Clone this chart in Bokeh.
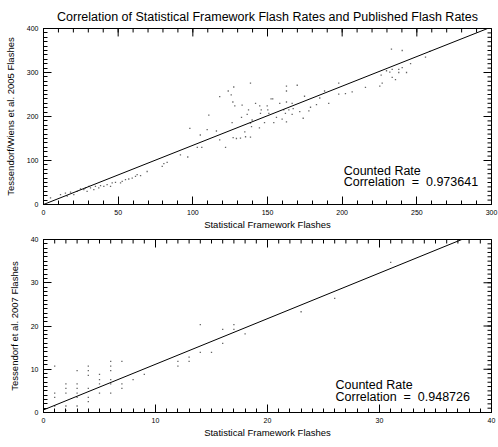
from bokeh.plotting import figure
from bokeh.models import SingleIntervalTicker, Range1d, Label
from bokeh.layouts import column
from bokeh.embed import file_html
from bokeh.resources import INLINE

FONT = "Liberation Sans"

title_text = "Correlation of Statistical Framework Flash Rates and Published Flash Rates"
x_label = "Statistical Framework Flashes"
top_y_label = "Tessendorf/Wiens et al. 2005 Flashes"
bot_y_label = "Tessendorf et al. 2007 Flashes"

top_x = [4.7, 11.4, 14.7, 15.9, 18.1, 20.3, 22.5, 24.8, 27.0, 28.1, 29.2, 30.4, 31.5,
         33.7, 34.8, 37.0, 38.2, 40.4, 42.6, 44.9, 46.0, 48.2, 51.6, 52.7, 54.9, 57.1,
         59.4, 61.6, 62.7, 65.0, 69.4, 79.5, 80.6, 82.8,
         91.7, 96.6, 98.0, 103.0, 106.0, 105.0, 109.6, 110.7, 115.8, 118.0, 118.0, 121.9,
         123.7, 125.7, 126.3, 126.8, 127.4, 128.1, 127.0, 129.2, 131.9, 133.0, 132.6,
         134.8, 135.3, 136.4, 137.3, 138.6, 138.6, 139.3, 138.6, 139.7, 142.0, 144.8,
         145.3, 145.8, 144.6, 148.0, 149.8, 150.2, 150.9, 152.4, 153.5, 154.2, 156.0,
         158.2, 159.8, 160.9, 162.0, 162.7, 162.7, 162.7, 162.7, 164.3, 166.5, 166.5,
         167.2, 169.9, 171.6, 173.9, 174.8, 177.7, 178.8, 182.8, 185.0, 188.2, 191.0,
         197.7, 197.7, 202.2, 206.7, 215.6, 225.2, 226.8, 226.1, 229.7, 231.9, 233.5,
         233.5, 233.0, 235.7, 237.9, 237.9, 240.2, 240.2, 243.1, 245.8, 255.8, 258.7]
top_y = [15, 22.6, 26, 19, 28, 22.6, 30, 35.4, 34, 37.7, 30, 41.4, 37.7,
         34, 41.4, 37.7, 43, 41, 45, 41, 49, 50.5, 49, 52.7, 56.5, 58,
         60, 64, 67.8, 65.5, 75, 86.6, 92.7, 95.6,
         113, 108, 173, 130, 130, 158, 170, 203, 167, 147, 245, 130,
         258, 249, 186, 233, 267, 224, 152, 150, 151, 226, 198,
         165, 154, 205, 215, 276, 153, 177, 185, 192, 230, 224,
         207, 215, 174, 186, 224, 215, 207, 240, 240, 186, 198,
         230, 194, 215, 207, 269, 258, 233, 188, 215, 230, 205,
         218, 271, 211, 196, 246, 213, 221, 227, 242, 258, 230,
         276, 251, 252, 256, 266, 269, 276, 294, 304, 301, 289,
         307, 353, 284, 307, 300, 311, 350, 300, 320, 335, 348]
top_slope = 1.345
top_intercept = 0.0
top_corr = "0.973641"
top_fit_x = [0, 300]

bot_x = [1, 1, 1, 1, 2, 2, 2, 2, 2, 3, 3, 3, 3, 3, 3, 4, 4, 4, 4, 4, 4,
         5, 5, 5, 5, 6, 6, 6, 6, 6, 6, 7, 7, 7, 8, 9, 12, 12, 13, 13,
         14, 14, 15, 16, 16, 17, 17, 18, 23, 26, 31]
bot_y = [10.7, 4.5, 3.5, 1.5, 6.6, 5.6, 4.5, 1.5, 0.5, 9.7, 6.6, 5.6, 4.5, 3.5, 1.5,
         10.7, 9.7, 8.6, 5.6, 3.5, 2.5, 8.8, 7.6, 6.6, 4.5, 11.8, 10.7, 9.7, 7.6, 6.6, 4.5,
         11.8, 6.6, 5.6, 7.6, 8.8, 11.8, 10.7, 12.8, 11.8, 20.3, 13.9, 13.9, 19.2, 16.0,
         20.3, 19.2, 18.2, 23.3, 26.4, 34.7]
bot_slope = 1.055
bot_intercept = 0.6
bot_corr = "0.948726"
bot_fit_x = [0, 40]

MAJOR_PX = 8
MINOR_PX = 4


def draw_box_ticks(p, xmax, ymax, xint, yint, xminor, yminor, fw, fh):
    """Inward ticks along the top and right edges (outer half clipped by the frame)."""
    kx = xmax / fw
    ky = ymax / fh
    for step, L in ((xint / xminor, MINOR_PX), (xint, MAJOR_PX)):
        n = int(round(xmax / step)) + 1
        pos = [i * step for i in range(n)]
        p.segment(x0=pos, y0=[ymax - L * ky] * n, x1=pos, y1=[ymax + L * ky] * n,
                  line_color="black", line_width=1)
    for step, L in ((yint / yminor, MINOR_PX), (yint, MAJOR_PX)):
        n = int(round(ymax / step)) + 1
        pos = [i * step for i in range(n)]
        p.segment(x0=[xmax - L * kx] * n, y0=pos, x1=[xmax + L * kx] * n, y1=pos,
                  line_color="black", line_width=1)


def make_panel(height, b_top, b_bottom, xmax, ymax, xint, yint, xminor, yminor,
               xs, ys, slope, intercept, fit_x, ylabel,
               corr, lx, ly1, ly2, title=None):
    p = figure(width=498, height=height, output_backend="svg", toolbar_location=None,
               x_range=Range1d(0, xmax), y_range=Range1d(0, ymax),
               min_border_left=43, min_border_right=7,
               min_border_top=b_top, min_border_bottom=b_bottom)
    if title:
        p.title.text = title
        p.title.align = "center"
        p.title.text_font = FONT
        p.title.text_font_size = "12.5px"
        p.title.text_font_style = "normal"
        p.title.text_color = "black"
        p.title.standoff = 10
    p.grid.visible = False
    p.outline_line_color = "black"
    p.outline_line_width = 1

    p.xaxis.ticker = SingleIntervalTicker(interval=xint, num_minor_ticks=xminor)
    p.yaxis.ticker = SingleIntervalTicker(interval=yint, num_minor_ticks=yminor)
    for ax in (p.xaxis[0], p.yaxis[0]):
        ax.major_tick_in = MAJOR_PX
        ax.major_tick_out = 0
        ax.minor_tick_in = MINOR_PX
        ax.minor_tick_out = 0
        ax.major_tick_line_color = "black"
        ax.minor_tick_line_color = "black"
        ax.axis_line_color = "black"
        ax.major_label_text_font = FONT
        ax.major_label_text_font_size = "7px"
        ax.major_label_text_color = "black"
        ax.major_label_standoff = 5
        ax.axis_label_text_font = FONT
        ax.axis_label_text_font_size = "9.5px"
        ax.axis_label_text_font_style = "normal"
        ax.axis_label_text_color = "black"
        ax.axis_label_standoff = 1
    p.xaxis.axis_label = x_label
    p.yaxis.axis_label = ylabel
    p.yaxis.axis_label_standoff = 8
    p.yaxis.major_label_orientation = "horizontal"

    fw = 498 - 43 - 7
    fh = height - b_top - b_bottom
    draw_box_ticks(p, xmax, ymax, xint, yint, xminor, yminor, fw, fh)

    p.scatter(xs, ys, marker="square", size=1.3, fill_color="#222222", line_color=None,
              fill_alpha=0.7)
    fit_y = [slope * v + intercept for v in fit_x]
    p.line(fit_x, fit_y, line_color="black", line_width=1)

    p.add_layout(Label(x=lx, y=ly1, text="Counted Rate", text_font=FONT,
                       text_font_size="12.5px", text_baseline="middle", text_color="black"))
    p.add_layout(Label(x=lx, y=ly2, text="Correlation\u00a0 = \u00a0" + corr, text_font=FONT,
                       text_font_size="12.5px", text_baseline="middle", text_color="black"))
    return p


p1 = make_panel(232, 28, 27, 300, 400, 50, 100, 5, 10, top_x, top_y, top_slope,
                top_intercept, top_fit_x, top_y_label,
                top_corr, 201, 77, 52, title=title_text)
p2 = make_panel(215, 7, 35, 40, 40, 10, 10, 10, 10, bot_x, bot_y, bot_slope,
                bot_intercept, bot_fit_x, bot_y_label,
                bot_corr, 26.07, 6.36, 3.47)

layout = column(p1, p2, spacing=0)
open("out.html", "w").write(file_html(layout, INLINE))
